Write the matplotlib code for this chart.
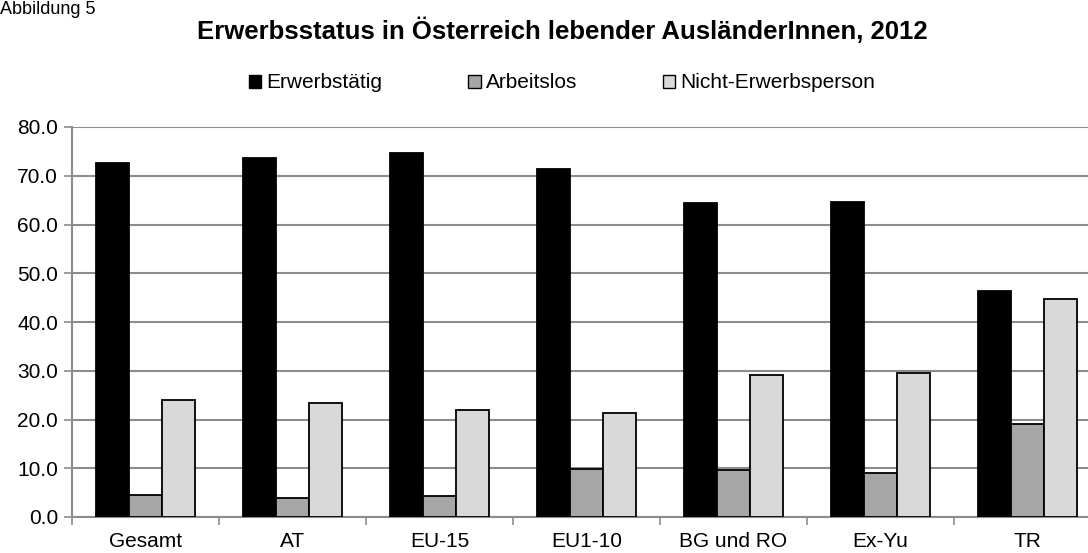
import matplotlib
matplotlib.use("Agg")
import matplotlib.pyplot as plt
from matplotlib.patches import Patch
import numpy as np

plt.rcParams["font.family"] = ["Liberation Sans", "DejaVu Sans"]

categories = ["Gesamt", "AT", "EU-15", "EU1-10", "BG und RO", "Ex-Yu", "TR"]
series = ["Erwerbstätig", "Arbeitslos", "Nicht-Erwerbsperson"]
erwerbstaetig = [72.7, 73.7, 74.6, 71.3, 64.5, 64.6, 46.4]
arbeitslos = [4.5, 3.8, 4.3, 9.8, 9.6, 9.1, 19.1]
nicht_erwerb = [24.1, 23.3, 21.9, 21.4, 29.1, 29.5, 44.8]
colors = ["#000000", "#a6a6a6", "#d9d9d9"]

fig = plt.figure(figsize=(10.88, 5.53), dpi=100)
ax = fig.add_axes([72 / 1088, 1 - 517 / 553, 1029 / 1088, 390 / 553])

x = np.arange(len(categories))
w = 33 / 147
for k, (vals, c) in enumerate(zip([erwerbstaetig, arbeitslos, nicht_erwerb], colors)):
    ax.bar(x + (k - 1) * w, vals, width=w, color=c, edgecolor="black",
           linewidth=1.3, zorder=3)

ax.set_xlim(-0.5, len(categories) - 0.5)
ax.set_ylim(0, 80)
ax.set_yticks(np.arange(0, 81, 10))
ax.set_yticklabels([f"{v:.1f}" for v in range(0, 81, 10)], fontsize=15)
ax.yaxis.grid(True, color="#8c8c8c", linewidth=1.5, zorder=0)
ax.set_axisbelow(True)

ax.set_xticks(np.arange(-0.5, len(categories)), labels=[""] * (len(categories) + 1))
ax.set_xticks(x, labels=categories, minor=True)
ax.tick_params(axis="x", which="minor", length=0, labelsize=15, pad=11)
ax.tick_params(axis="x", which="major", length=6, color="#8c8c8c", width=1.2)
ax.tick_params(axis="y", length=6, color="#8c8c8c", width=1.2, pad=4)

for s in ["top", "right"]:
    ax.spines[s].set_visible(False)
for s in ["left", "bottom"]:
    ax.spines[s].set_color("#8c8c8c")
    ax.spines[s].set_linewidth(1.5)

fig.text(562 / 1088, 1 - 31 / 553, "Erwerbsstatus in Österreich lebender AusländerInnen, 2012",
         ha="center", va="center", fontsize=18.5, fontweight="bold")
fig.text(0.0, 1 - 1 / 553, "Abbildung 5", ha="left", va="top", fontsize=13)

handles = [Patch(facecolor=c, edgecolor="black", linewidth=1.0) for c in colors]
fig.legend(handles, series, loc="center", bbox_to_anchor=(562 / 1088, 1 - 83 / 553),
           ncol=3, frameon=False, fontsize=15, handlelength=0.6, handleheight=0.6,
           handletextpad=0.25, columnspacing=4.1)

fig.savefig("out.png", dpi=100)
